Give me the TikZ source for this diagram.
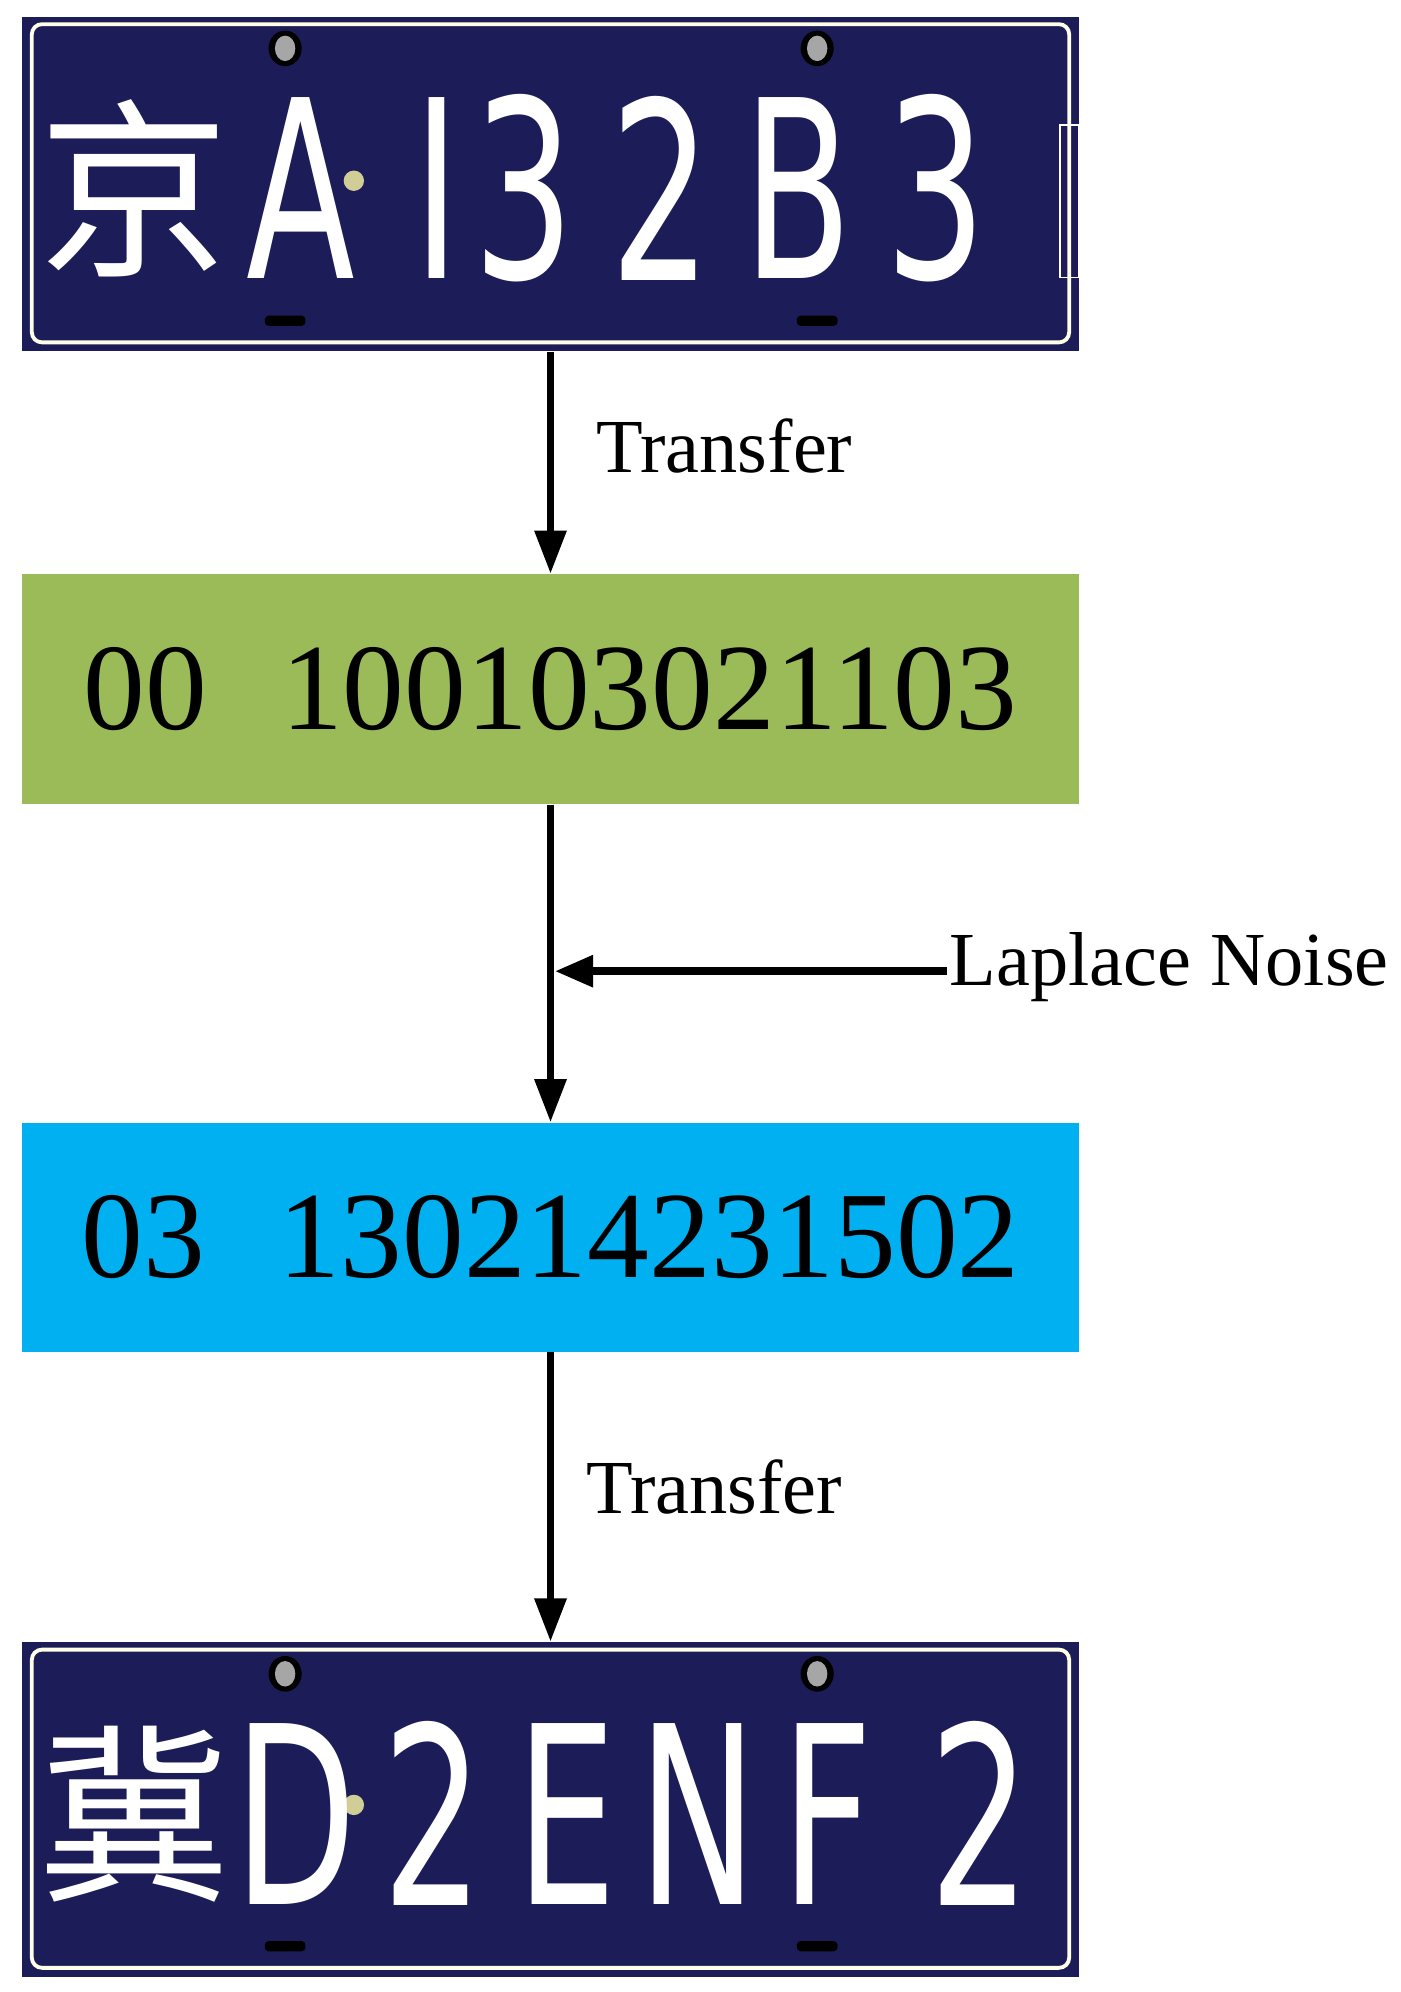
\documentclass[tikz,border=0pt]{standalone}
\usepackage{fontspec}
\setmainfont{Liberation Serif}
\newfontfamily\cjk{Noto Sans CJK SC}
\newfontfamily\plt{DejaVu Sans}
\usetikzlibrary{arrows.meta}
\definecolor{plateblue}{HTML}{1C1C58}
\definecolor{boxgreen}{HTML}{9BBB59}
\definecolor{boxcyan}{HTML}{00B0F0}
\tikzset{
  arr/.style={line width=6pt,-{Triangle[length=30pt,width=24pt,open,fill=black]}},
  arr2/.style={line width=6pt,-{Triangle[length=34pt,width=24pt]}},
  lbl/.style={font=\fontsize{60}{66}\selectfont,anchor=west},
  num/.style={font=\fontsize{97}{100}\selectfont},
  pch/.style={text=white,font=\plt\fontsize{195}{195}\selectfont,xscale=0.64,inner sep=0},
  pcj/.style={text=white,font=\cjk\fontsize{150}{150}\selectfont,inner sep=0},
}
\newcommand{\plate}[1]{%
  \fill[plateblue] (17,0) rectangle (848,263);
  \draw[white!90!yellow,line width=3pt,rounded corners=8pt] (25,6) rectangle (840,256);
  \foreach \sx in {224,642}{
    \fill[black] (\sx,25) ellipse (13pt and 14pt);
    \fill[gray!70] (\sx,25) ellipse (8pt and 10pt);
    \fill[black,rounded corners=3pt] (\sx-16,235) rectangle (\sx+16,243);}
  \fill[gray!60!yellow!70] (278,#1) circle (8pt);
}
\begin{document}
\begin{tikzpicture}[x=1pt,y=-1pt]
\useasboundingbox (0,0) rectangle (1100,1565);
\begin{scope}[shift={(0,13)}]
  \plate{129}
  \node[pcj] (c1) at (105,135) {京};
  \node[pch] at (236,135) {A};
  \node[pch] at (343,135) {I};
  \node[pch] at (412,135) {3};
  \node[pch] at (519,135) {2};
  \node[pch] at (627,135) {B};
  \node[pch] at (735,135) {3};
  \draw[white,line width=1.5pt] (833,85) rectangle (848,205);
\end{scope}
\path (17,13) rectangle (848,276) node[pos=.5,inner sep=0,minimum width=831pt,minimum height=263pt] (p1) {};
\node[fill=boxgreen,minimum width=831pt,minimum height=181pt,inner sep=0,num] (g) at (432.5,541.5) {00\hspace{0.6em}100103021103};
\node[fill=boxcyan,minimum width=831pt,minimum height=180pt,inner sep=0,num] (b) at (432.5,972) {03\hspace{0.6em}130214231502};
\begin{scope}[shift={(0,1290)}]
  \plate{128}
  \node[pcj] at (105,135) {冀};
  \node[pch] at (232,135) {D};
  \node[pch] at (340,135) {2};
  \node[pch] at (445,135) {E};
  \node[pch] at (548,135) {N};
  \node[pch] at (650,135) {F};
  \node[pch] at (770,135) {2};
\end{scope}
\path (17,1290) rectangle (848,1553) node[pos=.5,inner sep=0,minimum width=831pt,minimum height=263pt] (p2) {};
\draw[arr2] (p1.south) -- (g.north);
\draw[arr2] (g.south) -- (b.north);
\draw[arr2] (b.south) -- (p2.north);
\node[lbl] (t1) at (465,350) {Transfer};
\node[lbl] (t2) at (457,1168) {Transfer};
\node[lbl,inner sep=2pt] (ln) at (744,760) {Laplace Noise};
\coordinate (m) at (436,763);
\draw[arr] (ln.west |- m) -- (m);
\end{tikzpicture}
\end{document}
